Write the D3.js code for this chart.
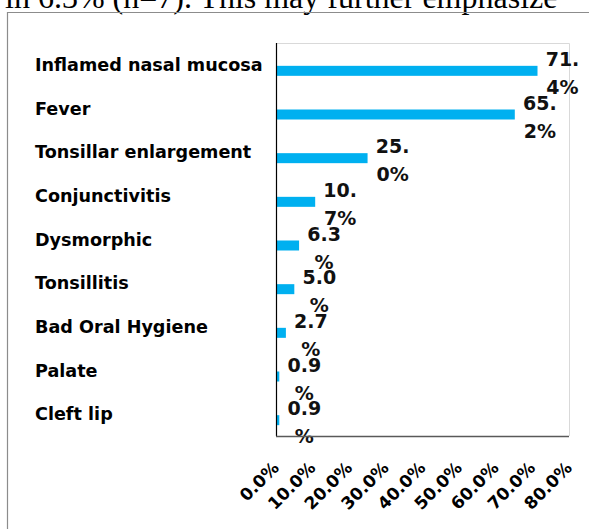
<!DOCTYPE html>
<html>
<head>
<meta charset="utf-8">
<script src="https://cdn.jsdelivr.net/npm/d3@7"></script>
<style>
  body { margin: 0; background: #fff; }
  svg { display: block; }
</style>
</head>
<body>
<div id="chart"></div>
<script>
const categories = ["Inflamed nasal mucosa", "Fever", "Tonsillar enlargement", "Conjunctivitis",
  "Dysmorphic", "Tonsillitis", "Bad Oral Hygiene", "Palate", "Cleft lip"];
const values = [71.4, 65.2, 25.0, 10.7, 6.3, 5.0, 2.7, 0.9, 0.9];
const ticks = [0, 10, 20, 30, 40, 50, 60, 70, 80];
const captionText = "in 6.3% (n=7). This may further emphasize";

const width = 589, height = 529;
const plot = { left: 276, right: 569, top: 43, bottom: 436 };
const font = "DejaVu Sans, sans-serif";

const svg = d3.select("#chart").append("svg")
  .attr("width", width)
  .attr("height", height);

// cut-off line of the surrounding document text
svg.append("text")
  .attr("x", 5)
  .attr("y", 8)
  .attr("font-family", "Liberation Serif, Times New Roman, serif")
  .attr("font-size", 32)
  .attr("fill", "#000")
  .text(captionText);

// chart frame
svg.append("path")
  .attr("d", `M7.5,${height}V12.5H${width}`)
  .attr("fill", "none")
  .attr("stroke", "#8c8c8c")
  .attr("stroke-width", 1.2);

const x = d3.scaleLinear().domain([0, 80]).range([plot.left, plot.right]);
const y = d3.scaleBand().domain(categories).range([plot.top, plot.bottom]);

// plot area border
svg.append("path")
  .attr("d", `M${plot.left},${plot.top + 0.5}H${plot.right + 0.5}V${plot.bottom}`)
  .attr("fill", "none")
  .attr("stroke", "#d9d9d9");

const barH = 10;
const barOffset = 6;

svg.append("g")
  .selectAll("rect")
  .data(values)
  .enter().append("rect")
  .attr("x", x(0))
  .attr("y", (d, i) => y(categories[i]) + y.bandwidth() / 2 + barOffset - barH / 2)
  .attr("width", d => x(d) - x(0))
  .attr("height", barH)
  .attr("fill", "#00b0f0");

// category labels
svg.append("g")
  .selectAll("text")
  .data(categories)
  .enter().append("text")
  .attr("x", 35)
  .attr("y", d => y(d) + y.bandwidth() / 2)
  .attr("dy", "0.35em")
  .attr("font-family", font)
  .attr("font-weight", "bold")
  .attr("font-size", 17.6)
  .attr("fill", "#000")
  .text(d => d);

// value labels, wrapped on two lines like the original
const valueLabels = svg.append("g")
  .selectAll("text")
  .data(values)
  .enter().append("text")
  .attr("text-anchor", "middle")
  .attr("font-family", font)
  .attr("font-weight", "bold")
  .attr("font-size", 19)
  .attr("fill", "#111");

valueLabels.each(function(d, i) {
  const s = d.toFixed(1) + "%";
  const cx = x(d) + 25;
  const cy = y(categories[i]) + y.bandwidth() / 2 + barOffset;
  const parts = [s.slice(0, 3), s.slice(3)];
  d3.select(this).selectAll("tspan")
    .data(parts)
    .enter().append("tspan")
    .attr("x", cx)
    .attr("y", (p, k) => k === 0 ? cy - 5 : cy + 23)
    .text(p => p);
});

// axes lines
svg.append("line")
  .attr("x1", plot.left + 0.5).attr("x2", plot.left + 0.5)
  .attr("y1", plot.top).attr("y2", plot.bottom)
  .attr("stroke", "#000").attr("stroke-width", 1.2);

svg.append("line")
  .attr("x1", plot.left).attr("x2", plot.right)
  .attr("y1", plot.bottom + 0.5).attr("y2", plot.bottom + 0.5)
  .attr("stroke", "#595959").attr("stroke-width", 1.5);

// rotated tick labels
svg.append("g")
  .selectAll("text")
  .data(ticks)
  .enter().append("text")
  .attr("transform", d => `translate(${x(d) + 4},${plot.bottom + 33}) rotate(-45)`)
  .attr("text-anchor", "end")
  .attr("font-family", font)
  .attr("font-weight", "bold")
  .attr("font-size", 17)
  .attr("fill", "#000")
  .text(d => d.toFixed(1) + "%");
</script>
</body>
</html>
